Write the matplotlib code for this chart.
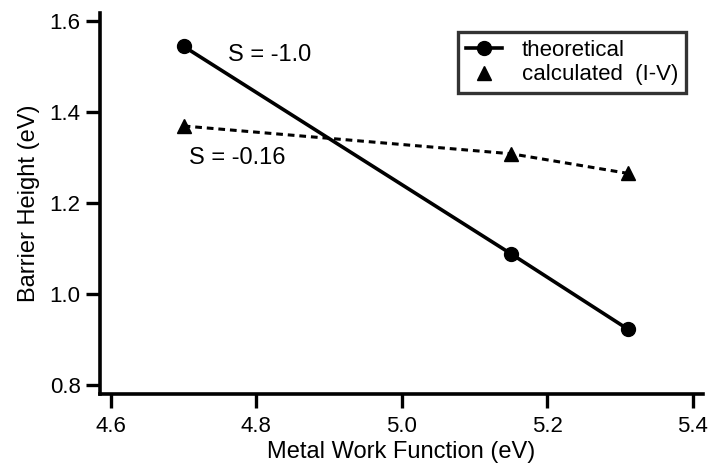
import matplotlib.pyplot as plt
from matplotlib.lines import Line2D

plt.rcParams['font.family'] = ['Liberation Sans', 'DejaVu Sans']

# data
work_function = [4.70, 5.15, 5.31]
theoretical = [1.545, 1.089, 0.924]
calculated_iv = [1.370, 1.309, 1.266]

x_ticks = [4.6, 4.8, 5.0, 5.2, 5.4]
y_ticks = [0.8, 1.0, 1.2, 1.4, 1.6]

fig = plt.figure(figsize=(7.11, 4.70), dpi=100)
ax = fig.add_axes([0.1406, 0.1617, 0.8484, 0.8103])

ax.plot(work_function, theoretical, color='black', lw=2.6,
        marker='o', ms=10)
ax.plot(work_function, calculated_iv, color='black', lw=2.2,
        linestyle=(0, (2.2, 1.6)), marker='^', ms=9.5)

ax.set_xlim(4.585, 5.414)
ax.set_ylim(0.781, 1.618)
ax.set_xticks(x_ticks)
ax.set_yticks(y_ticks)
ax.set_xticklabels([f"{v:.1f}" for v in x_ticks])
ax.set_yticklabels([f"{v:.1f}" for v in y_ticks])

for s in ['top', 'right']:
    ax.spines[s].set_visible(False)
for s in ['left', 'bottom']:
    ax.spines[s].set_linewidth(2.6)
ax.tick_params(direction='out', length=10, width=2.4, labelsize=16)
ax.tick_params(axis='x', pad=6)
ax.tick_params(axis='y', pad=4)

ax.set_xlabel("Metal Work Function (eV)", fontsize=17, labelpad=3)
ax.set_ylabel("Barrier Height (eV)", fontsize=17, labelpad=7)

ax.text(4.8185, 1.526, "S = -1.0", fontsize=17, va='center', ha='center')
ax.text(4.773, 1.300, "S = -0.16", fontsize=17, va='center', ha='center')

handles = [
    Line2D([], [], color='black', lw=2.6, marker='o', ms=10),
    Line2D([], [], color='black', lw=0, marker='^', ms=9.5),
]
leg = ax.legend(handles, ["theoretical", "calculated  (I-V)"],
                loc='upper left', bbox_to_anchor=(0.594, 0.950),
                fontsize=16, frameon=True, fancybox=False,
                handlelength=1.6, handletextpad=0.9, labelspacing=0.15,
                borderpad=0.35, borderaxespad=0)
leg.get_frame().set_edgecolor('black')
leg.get_frame().set_linewidth(2.4)

fig.savefig("out.png", dpi=100)
